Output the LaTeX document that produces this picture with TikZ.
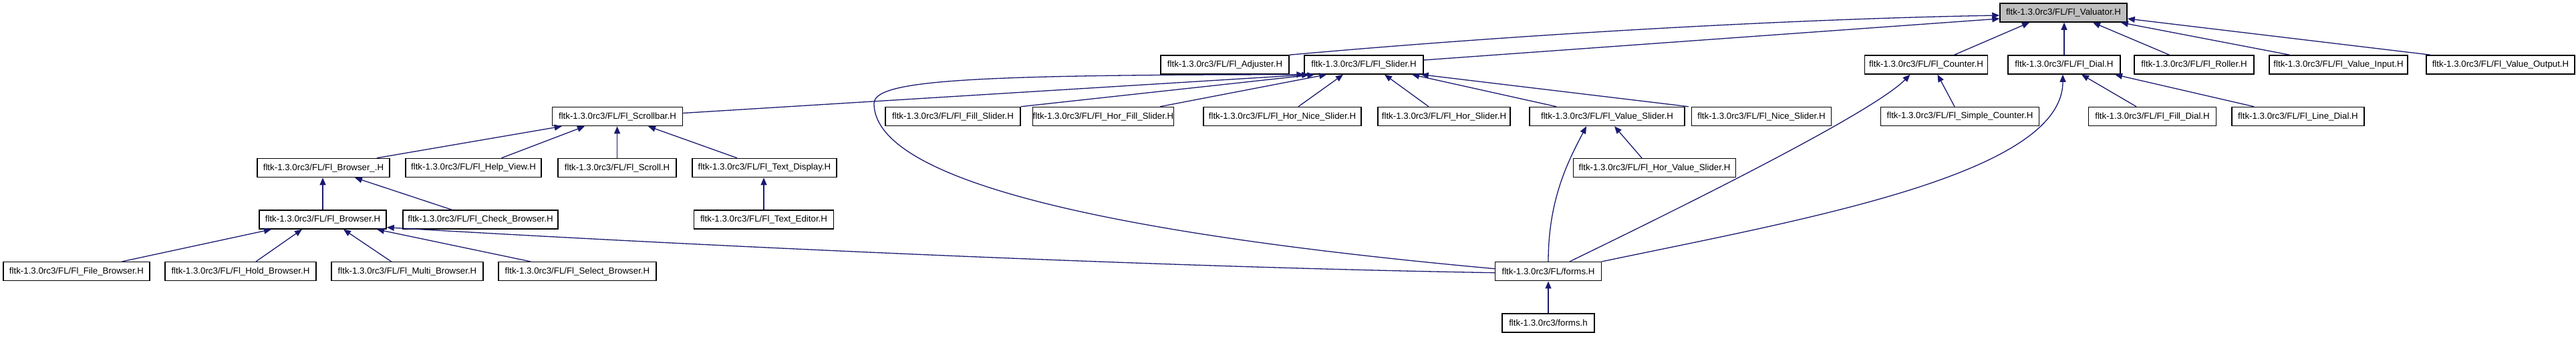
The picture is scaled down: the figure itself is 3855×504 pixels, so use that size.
\documentclass[tikz,border=0pt]{standalone}
\usepackage{fontspec}
\usepackage{xcolor}
\usetikzlibrary{arrows.meta}
\newfontfamily\filefont{Liberation Sans}
\definecolor{edgeblue}{HTML}{191970}
\definecolor{boxgray}{HTML}{BFBFBF}

\begin{document}
\begin{tikzpicture}[x=1pt,y=-1pt,
        file/.style={rectangle,draw=black,line width=1.5pt,fill=white,
                     minimum height=28pt,inner sep=0pt,align=center,
                     font={\filefont\fontsize{13.3}{15}\selectfont}},
        dep/.style={-{Triangle[length=11pt,width=9pt]},draw=edgeblue,
                    line width=1.3pt}]
      \useasboundingbox[fill=white] (0,0) rectangle (3855,504);
      %% ── Row 0: the header itself ─────────────────────────
      \node[file,fill=boxgray,minimum width=190pt](val) at(3088,19){fltk-1.3.0rc3/FL/Fl\_Valuator.H};
      %% ── Row 1 ────────────────────────────────────────────
      \node[file,minimum width=192pt](adj) at(1833,97){fltk-1.3.0rc3/FL/Fl\_Adjuster.H};
      \node[file,minimum width=178pt](sld) at(2041,97){fltk-1.3.0rc3/FL/Fl\_Slider.H};
      \node[file,minimum width=184pt](cnt) at(2882.5,97){fltk-1.3.0rc3/FL/Fl\_Counter.H};
      \node[file,minimum width=168pt](dia) at(3089,97){fltk-1.3.0rc3/FL/Fl\_Dial.H};
      \node[file,minimum width=179pt](rol) at(3283.5,97){fltk-1.3.0rc3/FL/Fl\_Roller.H};
      \node[file,minimum width=207pt](vin) at(3499.5,97){fltk-1.3.0rc3/FL/Fl\_Value\_Input.H};
      \node[file,minimum width=222pt](vout)at(3742,97){fltk-1.3.0rc3/FL/Fl\_Value\_Output.H};
      %% ── Row 2 ────────────────────────────────────────────
      \node[file,minimum width=195pt](scb) at(924,174.5){fltk-1.3.0rc3/FL/Fl\_Scrollbar.H};
      \node[file,minimum width=202pt](fsl) at(1426,174.5){fltk-1.3.0rc3/FL/Fl\_Fill\_Slider.H};
      \node[file,minimum width=203pt](hfs) at(1651,174.5){fltk-1.3.0rc3/FL/Fl\_Hor\_Fill\_Slider.H};
      \node[file,minimum width=236pt](hns) at(1919,174.5){fltk-1.3.0rc3/FL/Fl\_Hor\_Nice\_Slider.H};
      \node[file,minimum width=198pt](hsl) at(2161,174.5){fltk-1.3.0rc3/FL/Fl\_Hor\_Slider.H};
      \node[file,minimum width=232pt](vsl) at(2405,174.5){fltk-1.3.0rc3/FL/Fl\_Value\_Slider.H};
      \node[file,minimum width=209pt](nsl) at(2636,174.5){fltk-1.3.0rc3/FL/Fl\_Nice\_Slider.H};
      \node[file,minimum width=237pt](scn) at(2933,174.5){fltk-1.3.0rc3/FL/Fl\_Simple\_Counter.H};
      \node[file,minimum width=191pt](fdl) at(3221,174.5){fltk-1.3.0rc3/FL/Fl\_Fill\_Dial.H};
      \node[file,minimum width=198pt](ldl) at(3439,174.5){fltk-1.3.0rc3/FL/Fl\_Line\_Dial.H};
      %% ── Row 3 ────────────────────────────────────────────
      \node[file,minimum width=198pt](brb) at(484,251.5){fltk-1.3.0rc3/FL/Fl\_Browser\_.H};
      \node[file,minimum width=203pt](hlp) at(708.5,251.5){fltk-1.3.0rc3/FL/Fl\_Help\_View.H};
      \node[file,minimum width=177pt](scr) at(923.6,251.5){fltk-1.3.0rc3/FL/Fl\_Scroll.H};
      \node[file,minimum width=216pt](txd) at(1144,251.5){fltk-1.3.0rc3/FL/Fl\_Text\_Display.H};
      \node[file,minimum width=243pt](hvs) at(2476,251.5){fltk-1.3.0rc3/FL/Fl\_Hor\_Value\_Slider.H};
      %% ── Row 4 ────────────────────────────────────────────
      \node[file,minimum width=190pt](brw) at(483,329){fltk-1.3.0rc3/FL/Fl\_Browser.H};
      \node[file,minimum width=232pt](chk) at(719,329){fltk-1.3.0rc3/FL/Fl\_Check\_Browser.H};
      \node[file,minimum width=209pt](ted) at(1143,329){fltk-1.3.0rc3/FL/Fl\_Text\_Editor.H};
      %% ── Row 5 ────────────────────────────────────────────
      \node[file,minimum width=219pt](fbr) at(114.5,406.7){fltk-1.3.0rc3/FL/Fl\_File\_Browser.H};
      \node[file,minimum width=226pt](hbr) at(360,406.7){fltk-1.3.0rc3/FL/Fl\_Hold\_Browser.H};
      \node[file,minimum width=227pt](mbr) at(609.5,406.7){fltk-1.3.0rc3/FL/Fl\_Multi\_Browser.H};
      \node[file,minimum width=236pt](sbr) at(864,406.7){fltk-1.3.0rc3/FL/Fl\_Select\_Browser.H};
      \node[file,minimum width=159pt](frm) at(2317,406.7){fltk-1.3.0rc3/FL/forms.H};
      %% ── Row 6 ────────────────────────────────────────────
      \node[file,minimum width=138pt](fsh) at(2317,484){fltk-1.3.0rc3/forms.h};
      %% ── Arrows into Fl_Valuator.H ────────────────────────
      \draw[dep] (adj.north east) .. controls +(370,-33) and +(-290,5) .. ([yshift=-4pt]val.west);
      \draw[dep] ([yshift=7pt]sld.east) -- ([yshift=-9pt]val.west);
      \draw[dep] ([xshift=42pt]cnt.north) -- ([xshift=-51pt]val.south);
      \draw[dep] (dia.north) -- (dia.north |- val.south);
      \draw[dep] ([xshift=-37pt]rol.north) -- ([xshift=44pt]val.south);
      \draw[dep] ([xshift=-73pt]vin.north) -- ([xshift=-10pt]val.south east);
      \draw[dep] ([xshift=7pt]vout.north west) -- ([yshift=-9pt]val.east);
      %% ── Arrows into Fl_Slider.H ──────────────────────────
      \draw[dep] ([yshift=5pt]scb.east) -- ([xshift=8pt]sld.south west);
      \draw[dep] (fsl.north east) -- ([xshift=16pt]sld.south west);
      \draw[dep] ([xshift=85pt]hfs.north) -- ([xshift=34pt]sld.south west);
      \draw[dep] ([xshift=24pt]hns.north) -- ([xshift=-31pt]sld.south);
      \draw[dep] ([xshift=-23pt]hsl.north) -- ([xshift=31pt]sld.south);
      \draw[dep] ([xshift=-76pt]vsl.north) -- ([xshift=72pt]sld.south);
      \draw[dep] ([xshift=-4pt]nsl.north west) -- ([xshift=-4pt]sld.south east);
      \draw[dep] ([yshift=4pt]frm.west) .. controls +(-450,-41) and (1308,290) .. (1308,155)
            .. controls (1308,120) and (1450,112) .. (sld.south west);
      %% ── Scrollbar, Browser_ and Text_Display ─────────────
      \draw[dep] ([xshift=80pt]brb.north) -- ([xshift=15pt]scb.south west);
      \draw[dep] ([xshift=42pt]hlp.north) -- ([xshift=-49pt]scb.south);
      \draw[dep] (scr.north) -- (scr.north |- scb.south);
      \draw[dep] ([xshift=-41pt]txd.north) -- ([xshift=46pt]scb.south);
      \draw[dep] (brw.north) -- (brw.north |- brb.south);
      \draw[dep] ([xshift=-43pt]chk.north) -- ([xshift=47pt]brb.south);
      \draw[dep] (ted.north) -- (ted.north |- txd.south);
      %% ── Arrows into Fl_Browser.H ─────────────────────────
      \draw[dep] ([xshift=68pt]fbr.north) -- ([xshift=-77pt]brw.south);
      \draw[dep] ([xshift=23pt]hbr.north) -- ([xshift=-31pt]brw.south);
      \draw[dep] ([xshift=-24pt]mbr.north) -- ([xshift=31pt]brw.south);
      \draw[dep] ([xshift=-70pt]sbr.north) -- ([xshift=81pt]brw.south);
      \draw[dep] ([yshift=-2pt]frm.west) .. controls +(-540,-9) and +(420,25) .. ([yshift=3pt]brw.south east);
      %% ── forms.H into the value widgets ───────────────────
      \draw[dep] (frm.north) .. controls +(0,-95) and +(-26,50) .. ([xshift=-31pt]vsl.south);
      \draw[dep] ([xshift=-19pt]hvs.north) -- ([xshift=11pt]vsl.south);
      \draw[dep] ([xshift=32pt]frm.north) .. controls +(150,-73) and +(-58,59) .. ([xshift=-24pt]cnt.south);
      \draw[dep] ([xshift=-8pt]scn.north) -- ([xshift=17pt]cnt.south);
      \draw[dep] (frm.north east) .. controls +(300,-63) and +(0,150) .. ([xshift=-2pt]dia.south);
      \draw[dep] ([xshift=-24pt]fdl.north) -- ([xshift=26pt]dia.south);
      \draw[dep] ([xshift=-66pt]ldl.north) -- ([xshift=76pt]dia.south);
      %% ── forms.h ──────────────────────────────────────────
      \draw[dep] (fsh.north) -- (frm.south);
    \end{tikzpicture}
\end{document}
